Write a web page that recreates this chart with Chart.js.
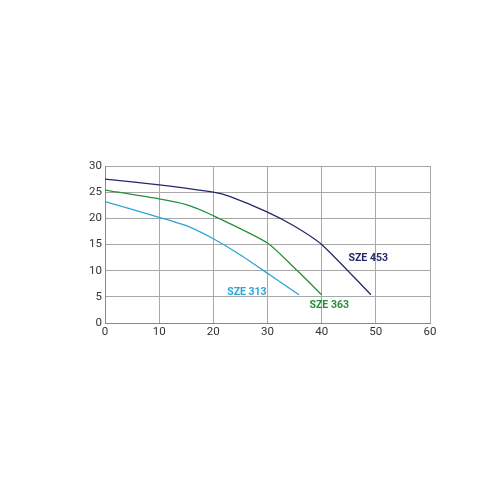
<!DOCTYPE html>
<html>
<head>
<meta charset="utf-8">
<script src="https://cdn.jsdelivr.net/npm/chart.js@4"></script>
<style>
  html, body { margin: 0; padding: 0; background: #fff; }
  #wrap { width: 500px; height: 500px; }
</style>
</head>
<body>
<div id="wrap"><canvas id="myChart" width="500" height="500"></canvas></div>
<script>
// flow (x) and head (y)
var flow453 = [0, 10, 20, 23, 30, 35, 40, 49.1];
var head453 = [27.5, 26.4, 25.0, 24.2, 21.2, 18.5, 15.0, 5.4];
var flow363 = [0, 10, 15, 20, 30, 35, 40];
var head363 = [25.4, 23.7, 22.6, 20.5, 15.3, 10.5, 5.4];
var flow313 = [0, 10, 15, 20, 25, 30, 35.8];
var head313 = [23.2, 20.2, 18.6, 16.1, 13.0, 9.5, 5.4];
var names = ['SZE 453', 'SZE 363', 'SZE 313'];
var xTicks = [0, 10, 20, 30, 40, 50, 60];
var yTicks = [0, 5, 10, 15, 20, 25, 30];

function pts(xs, ys) {
  return xs.map(function(x, i) { return {x: x, y: ys[i]}; });
}

// curve name labels, placed in data units
var curveLabels = {
  plugin: {
    id: 'curveLabels',
    afterDatasetsDraw: function(chart) {
      var ctx = chart.ctx, xs = chart.scales.x, ys = chart.scales.y;
      var spots = [[48.6, 12.3], [41.4, 3.4], [26.2, 5.8]];
      ctx.save();
      ctx.font = 'bold 10.5px Roboto';
      ctx.textAlign = 'center';
      ctx.textBaseline = 'middle';
      chart.data.datasets.forEach(function(ds, i) {
        ctx.fillStyle = ds.borderColor;
        ctx.fillText(ds.label, xs.getPixelForValue(spots[i][0]), ys.getPixelForValue(spots[i][1]));
      });
      ctx.restore();
    }
  }
};

var ctx = document.getElementById('myChart');
var myChart = new Chart(ctx, {
  type: 'line',
  data: {
    datasets: [{
      label: names[0],
      data: pts(flow453, head453),
      borderColor: '#22296b',
      borderWidth: 1.3,
      pointRadius: 0,
      tension: 0.2
    }, {
      label: names[1],
      data: pts(flow363, head363),
      borderColor: '#22903c',
      borderWidth: 1.3,
      pointRadius: 0,
      tension: 0.2
    }, {
      label: names[2],
      data: pts(flow313, head313),
      borderColor: '#2ba4d6',
      borderWidth: 1.3,
      pointRadius: 0,
      tension: 0.2
    }]
  },
  plugins: [curveLabels.plugin],
  options: {
    responsive: false,
    animation: false,
    layout: { padding: { left: 78, right: 70, top: 166, bottom: 157 } },
    plugins: { legend: { display: false }, tooltip: { enabled: false } },
    scales: {
      x: {
        type: 'linear',
        min: 0, max: 60,
        afterBuildTicks: function(s) { s.ticks = xTicks.map(function(v) { return {value: v}; }); },
        afterFit: function(s) { s.height = 20; },
        grid: { color: '#a8a8a8', lineWidth: 1, drawTicks: false },
        border: { color: '#888' },
        ticks: { color: '#333', font: { family: 'Roboto', size: 11.5 }, padding: 2 }
      },
      y: {
        min: 0, max: 30,
        afterBuildTicks: function(s) { s.ticks = yTicks.map(function(v) { return {value: v}; }); },
        afterFit: function(s) { s.width = 27; },
        grid: { color: '#a8a8a8', lineWidth: 1, drawTicks: false },
        border: { color: '#888' },
        ticks: { color: '#333', font: { family: 'Roboto', size: 11.5 }, padding: 3 }
      }
    }
  }
});
</script>
</body>
</html>
